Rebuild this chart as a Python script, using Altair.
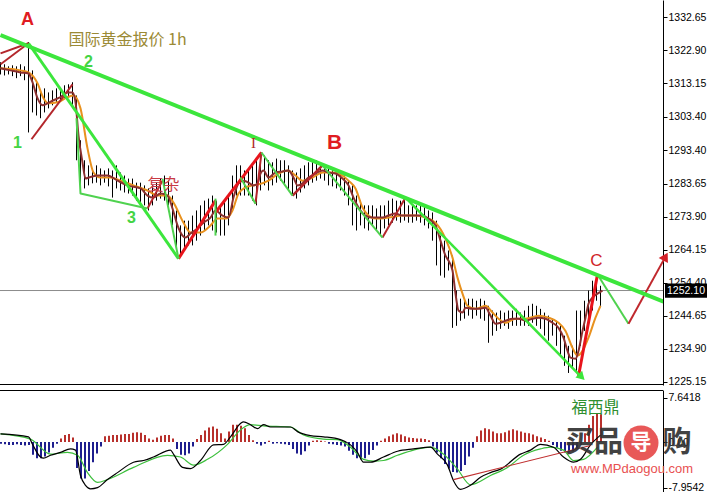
import altair as alt
import pandas as pd

# ---------------- price bars (one bar per step) ----------------
bar_high = [1319.4,1318.8,1318.2,1318.5,1318.2,1318.8,1318.2,1325.3,1317.0,1314.1,
            1311.1,1311.7,1310.5,1311.1,1311.7,1311.7,1312.6,1312.9,1313.5,1309.6,
            1296.4,1290.5,1289.0,1288.1,1289.0,1288.1,1287.5,1288.1,1287.5,1289.0,
            1286.9,1286.0,1285.1,1285.1,1283.9,1283.9,1283.1,1282.2,1283.1,1283.9,
            1285.1,1286.0,1284.5,1280.1,1275.7,1271.3,1272.7,1272.7,1274.2,1275.7,
            1277.2,1278.6,1279.2,1280.1,1278.6,1277.2,1278.6,1280.1,1286.0,1289.0,
            1289.0,1287.5,1287.5,1289.0,1290.5,1292.8,1291.9,1290.5,1289.9,1291.0,
            1290.5,1290.5,1289.0,1287.5,1286.9,1288.1,1289.0,1289.9,1290.5,1290.5,
            1289.9,1289.0,1289.0,1288.1,1287.5,1286.9,1286.0,1284.5,1283.1,1280.1,
            1278.6,1277.2,1277.2,1277.2,1276.3,1277.2,1277.2,1278.6,1279.2,1278.6,
            1278.6,1279.2,1277.2,1277.2,1277.2,1277.2,1277.2,1275.7,1275.1,1272.7,
            1268.3,1266.8,1263.9,1262.4,1252.1,1249.7,1249.1,1249.7,1249.7,1249.1,
            1249.7,1249.1,1247.6,1246.2,1245.6,1246.2,1245.6,1246.2,1246.2,1246.7,
            1245.6,1246.2,1247.6,1248.2,1247.6,1246.7,1245.6,1244.7,1243.8,1243.2,
            1241.7,1238.8,1235.8,1235.8,1246.2,1246.2,1249.1,1252.1,1255.0,1257.1,1253.5]
bar_low = [1315.8,1315.5,1315.8,1315.3,1314.7,1315.3,1314.1,1298.7,1304.6,1303.7,
           1302.9,1304.6,1305.8,1306.7,1307.6,1308.2,1308.8,1309.4,1306.7,1290.5,
           1281.6,1282.2,1283.1,1283.7,1283.9,1283.1,1283.9,1282.8,1279.5,1282.2,
           1281.6,1281.0,1280.7,1280.1,1278.6,1277.2,1277.2,1275.7,1277.2,1278.6,
           1279.2,1278.6,1277.2,1271.3,1263.9,1262.4,1263.9,1265.4,1265.4,1266.8,
           1268.3,1269.8,1271.3,1269.8,1269.2,1268.3,1268.3,1271.3,1275.7,1280.1,
           1280.1,1280.1,1280.1,1278.6,1277.2,1281.6,1283.1,1281.6,1283.1,1283.9,
           1284.5,1283.1,1281.6,1280.1,1279.2,1281.0,1282.2,1283.1,1283.9,1284.5,
           1285.1,1284.5,1283.1,1282.8,1282.2,1281.6,1280.1,1277.2,1271.3,1269.8,
           1271.3,1270.4,1269.8,1271.3,1269.8,1268.3,1270.4,1271.3,1272.1,1272.7,
           1272.1,1272.7,1272.1,1272.1,1272.7,1272.1,1271.3,1270.4,1266.8,1259.5,
           1256.5,1255.9,1258.0,1241.1,1241.7,1243.2,1243.8,1244.7,1243.8,1244.7,
           1243.8,1243.2,1236.7,1238.8,1240.2,1240.8,1241.7,1240.8,1241.7,1241.7,
           1241.7,1241.7,1241.7,1242.6,1241.7,1240.8,1238.8,1237.3,1238.8,1235.8,
           1232.9,1229.9,1227.8,1229.0,1228.4,1235.8,1240.2,1243.2,1246.2,1249.1,1247.6]

# ---------------- moving averages ----------------
fast_bar = [0,2.5,5,7,8,9.25,10.5,11.75,13.25,15,
            16.75,18,18.75,19.5,20.5,21.25,22,24.25,26.75,29.25,
            31.75,35,36.75,38.25,40,41.75,43,44.25,45.5,46.25,
            47.5,49.25,50.75,52.5,53.75,55.5,57,58.25,59.5,60.75,
            62,63.25,64.25,65,65.75,67,68.75,70.5,72,73.25,
            74.25,75.5,77,78.75,80.5,82,83.75,85.5,87,88.25,
            89.5,91.25,93,95.5,97,98.75,100.5,103.75,105.5,107,
            108.75,110,111.25,112,113,113.75,114.5,115.5,116.25,118,
            119.5,121.25,122.5,123.75,125,126.25,128,129.5,131.25,133,
            134.5,136.25,138,139.5,140.75,141.75,142.5,143.75,144.5,145.5,
            146.25,147,148,149.25,150.5]
fast_ma = [1317.6,1317.0,1316.4,1316.1,1313.5,1308.8,1306.7,1307.3,1308.2,1309.1,
           1310.5,1310.5,1307.6,1297.8,1289.9,1285.1,1285.4,1286.0,1286.0,1284.5,
           1283.1,1282.2,1280.1,1279.5,1280.7,1280.1,1276.3,1271.3,1268.3,1267.7,
           1268.9,1270.4,1272.1,1273.6,1275.7,1274.2,1273.6,1279.5,1283.7,1284.5,
           1283.9,1283.1,1283.7,1286.6,1287.5,1285.4,1286.9,1287.2,1287.5,1285.4,
           1283.1,1283.7,1285.4,1286.6,1287.5,1286.9,1286.6,1285.1,1283.1,1279.5,
           1276.6,1274.2,1273.6,1273.6,1274.2,1274.8,1274.2,1274.2,1274.2,1273.3,
           1271.3,1266.8,1262.4,1260.9,1258.0,1251.2,1246.2,1245.6,1247.0,1246.7,
           1246.7,1247.0,1244.7,1242.3,1242.6,1243.2,1243.8,1243.8,1243.2,1243.8,
           1244.1,1243.8,1242.6,1241.1,1238.2,1234.3,1232.3,1232.0,1234.3,1240.2,
           1244.1,1248.2,1250.0,1251.2,1252.1]
slow_bar = [0,5,7,9.25,10.75,12,14.25,16.75,18.25,20,
            21.75,23.25,25,27.5,30,33.25,36.75,39.25,41.75,43.25,
            45.75,47.5,50,52.5,54.25,56.25,58,59.5,61.25,63,
            64.5,67,69.5,71.75,73.75,75.5,78,80.5,83,85.5,
            87,88.75,90.5,92,93.75,97,100.5,103.75,106.25,108.75,
            111.25,113,114.25,115.5,116.75,118.75,121.25,123,124.5,126.25,
            128.75,131.25,134.5,137,139.5,141.25,143,144.25,145.5,147,
            148.75,150]
slow_ma = [1317.6,1317.0,1316.4,1313.2,1308.8,1307.3,1307.6,1309.1,1309.6,1305.8,
           1294.0,1286.9,1285.4,1285.4,1284.5,1283.1,1281.6,1280.1,1280.1,1278.0,
           1272.1,1269.2,1269.2,1271.3,1273.3,1273.3,1275.7,1280.7,1282.5,1283.1,
           1283.4,1284.5,1286.6,1287.5,1286.0,1284.5,1285.4,1286.9,1286.9,1286.0,
           1284.5,1282.2,1276.6,1274.2,1273.3,1273.6,1274.2,1274.2,1273.6,1272.1,
           1267.4,1261.8,1255.9,1251.2,1247.6,1246.7,1247.6,1245.6,1243.8,1242.6,
           1243.8,1243.8,1244.7,1244.1,1242.6,1240.2,1235.2,1232.9,1234.3,1238.2,
           1244.1,1247.6]

# ---------------- MACD ----------------
macd_hist = [-0.3,-0.4,-0.5,-0.5,-0.4,-0.5,-0.6,-0.5,-2.2,-2.8,
             -2.8,-2.5,-1.8,-1.0,-0.3,0.6,1.2,1.4,0.8,-4.5,
             -6.3,-6.3,-5.0,-3.5,-2.0,-0.8,1.0,1.1,1.2,1.2,
             1.3,1.4,1.4,1.6,1.7,1.6,1.2,0.6,0.4,0.8,
             1.1,1.2,1.2,0.6,-1.2,-2.2,-2.3,-2.0,-0.8,0.5,
             1.2,2.0,2.5,2.7,2.3,1.5,0.6,1.8,3.0,3.0,
             2.8,2.4,1.2,0.3,-0.3,-0.6,-0.3,0.2,-0.3,-0.2,
             -0.3,-0.4,-0.5,-1.2,-2.0,-2.2,-1.6,-0.6,0.2,0.3,
             0.2,0.1,-0.3,-0.4,-0.5,-0.6,-0.8,-1.5,-2.2,-2.8,
             -3.0,-2.8,-2.2,-1.4,-0.6,0.2,0.6,1.0,1.3,1.5,
             1.3,1.0,0.8,0.7,0.6,0.6,0.5,0.3,-0.8,-1.8,
             -2.8,-3.8,-4.6,-5.2,-5.3,-5.0,-4.0,-2.5,-1.0,1.0,
             2.0,2.4,2.2,1.8,1.5,1.5,1.7,2.0,2.2,2.0,
             1.8,1.6,1.5,1.3,1.0,0.8,0.5,0.2,-0.5,-1.0,
             -1.5,-1.8,-1.8,-1.6,-1.2,-0.5,1.5,3.0,4.5,5.0,4.8]
macd_bar = [0,7,8,10,10.75,12.5,15,17.5,18.75,20,
            21.25,22.5,24.25,26.75,29.25,33.25,35.75,38.25,42.5,43.25,
            45.5,47.5,50,53.25,55.75,57.5,60,60.75,62.5,64.25,
            65.75,67.5,72.5,74.25,77.5,80.75,85,87.5,89.25,90.75,
            92.5,95.75,99.25,103.25,107.5,109.25,111.75,113.25,115,117.5,
            120,122.5,125,130,132.5,135,138.25,140.75,143.25,145,
            147.5,150]
macd_line = [1.4,0.9,-0.4,-2.6,-2.8,-2.3,-1.8,-1.2,-1.4,-5.8,
             -7.5,-8.1,-7.9,-6.5,-5.3,-3.5,-3.2,-2.6,-1.4,-2.1,
             -4.4,-4.6,-3.2,-0.5,-0.4,0.9,3.2,3.5,3.0,2.3,
             3.0,2.6,2.6,1.8,1.1,0.9,0.4,-0.5,-1.8,-3.5,
             -3.5,-2.6,-1.6,-1.2,-0.9,-2.1,-4.0,-6.7,-8.2,-7.5,
             -6.1,-5.3,-4.7,-2.1,-1.4,-0.4,-0.9,-2.6,-3.5,-3.0,
             -0.5,1.2]
signal_bar = [0,7.5,12.5,16.75,19.25,21.75,24.25,26.75,33.25,41.75,
              45,48.25,51.75,56.75,60,62.5,65.75,72.5,75.75,80.75,
              84.25,87.5,90.75,93.25,95.75,99.25,103.25,107.5,110.75,114.25,
              117.5,122.5,126.75,130.75,135,137.5,140.75,143.25,145.75,149.25]
signal_line = [1.4,0.5,-2.1,-1.8,-2.3,-5.3,-7.0,-6.5,-4.4,-2.3,
               -2.6,-4.0,-3.0,-0.4,2.1,3.0,2.8,2.6,1.2,0.5,
               0.4,-0.9,-3.0,-3.3,-3.2,-2.3,-1.4,-0.9,-2.1,-4.7,
               -7.4,-5.8,-4.4,-2.3,-1.2,-0.9,-1.4,-3.2,-3.0,-0.9]
div_bar = [113.25, 147.5]
div_val = [-6.5, -0.6]

# ---------------- axis ticks ----------------
price_ticks = [1332.65,1322.90,1313.15,1303.40,1293.40,1283.65,1273.90,
               1264.15,1254.40,1244.65,1234.90,1225.15]
macd_ticks = [7.6418, 0, -7.9542]
last_price = [1252.10]

# ---------------- drawn wave / trend lines ----------------
trend_bar = [0, 165.75]
trend_price = [1327.4, 1248.8]

wave_seg = ["R1","R1","R2","R2","R3","R3","R4","R4","R5","R5","R6","R6","R6b","R6b",
            "R7","R7","R8","R8","R9","R9",
            "G1","G1","G2","G2","G2","G3","G3","G4","G4","G5","G5","G6","G6",
            "G7","G7","G8","G8","G9","G9"]
wave_bar = [0,7, 0,7, 7.75,18, 36.75,40.5, 44.5,53.75, 53.75,65.25, 63.75,65.25,
            73,80.5, 95.5,101.25, 144.5,149.25,
            7,44.5, 19,20,36.75, 40.5,44.5, 53.75,53.75, 60,63.75, 65.25,73,
            80.5,95.5, 101.25,145, 149.25,157]
wave_price = [1322.0,1325.0, 1318.8,1325.0, 1296.7,1312.9, 1276.3,1284.5, 1261.5,1278.6,
              1275.1,1292.8, 1277.7,1292.8, 1280.1,1289.0, 1267.7,1279.5, 1226.9,1256.8,
              1325.0,1261.5, 1302.9,1280.7,1276.3, 1285.1,1261.5, 1279.2,1268.3,
              1285.4,1277.7, 1292.8,1280.1, 1289.0,1267.7, 1279.5,1226.9, 1256.8,1242.3]
forecast_bar = [157, 166.25]
forecast_price = [1242.3, 1262.1]

# annotation labels
big_labels = ["A", "B"]
big_bar = [6.75, 83.5]
big_price = [1331.8, 1295.5]
c_label = ["C"]
c_bar = [149]
c_price = [1260.9]
num_labels = ["1", "2", "3"]
num_bar = [4.25, 22, 32.75]
num_price = [1295.5, 1319.4, 1273.6]

# ---------------- styles ----------------
DARK_RED = "#b3262b"
RED = "#e8141c"
GREEN = "#3ce63c"
GREEN2 = "#4fd24f"
seg_style = {
    "R1": (DARK_RED, 2), "R2": (DARK_RED, 2), "R3": (DARK_RED, 2), "R4": (DARK_RED, 2),
    "R5": (RED, 3), "R6": (RED, 3), "R6b": (DARK_RED, 2), "R7": (DARK_RED, 2.5),
    "R8": (DARK_RED, 2), "R9": (RED, 3),
    "G1": (GREEN, 3), "G2": (GREEN2, 2), "G3": (GREEN2, 2), "G4": (GREEN2, 2),
    "G5": (GREEN2, 2), "G6": (GREEN2, 2), "G7": (GREEN2, 2), "G8": (GREEN, 2.5),
    "G9": (GREEN2, 2),
}

XS = alt.Scale(domain=[-0.125, 165.625], nice=False, zero=False)
PS = alt.Scale(domain=[1224.25, 1337.75], nice=False, zero=False)
MS = alt.Scale(domain=[-9.0, 9.0], nice=False, zero=False)

price_axis = alt.Axis(orient="right", values=price_ticks, format=".2f", title=None,
                      grid=False, domainColor="black", domainWidth=1, tickColor="black",
                      tickSize=4, labelPadding=1, labelFont="Liberation Sans",
                      labelFontSize=10.5, labelColor="black", labelFlush=False,
                      labelOverlap=False)
macd_axis = alt.Axis(orient="right", values=macd_ticks, title=None, grid=False,
                     labelExpr="datum.value == 0 ? '0.00' : toString(datum.value)",
                     domainColor="black", tickColor="black", tickSize=4, labelPadding=1,
                     labelFont="Liberation Sans", labelFontSize=10.5, labelColor="black",
                     labelFlush=False, labelOverlap=False)


def X(f="b"):
    return alt.X(f"{f}:Q", scale=XS, axis=None)


def P(f="p"):
    return alt.Y(f"{f}:Q", scale=PS, axis=price_axis)


def M(f="v"):
    return alt.Y(f"{f}:Q", scale=MS, axis=macd_axis)


bars_df = pd.DataFrame({"b": list(range(len(bar_high))), "p": bar_high, "lo": bar_low})
fast_df = pd.DataFrame({"b": fast_bar, "p": fast_ma})
slow_df = pd.DataFrame({"b": slow_bar, "p": slow_ma})
trend_df = pd.DataFrame({"b": trend_bar, "p": trend_price})
wave_df = pd.DataFrame({"seg": wave_seg, "b": wave_bar, "p": wave_price})
wave_df["k"] = range(len(wave_df))
wave_df["color"] = [seg_style[s][0] for s in wave_seg]
wave_df["w"] = [seg_style[s][1] for s in wave_seg]
fc_df = pd.DataFrame({"b": forecast_bar, "p": forecast_price})
last_df = pd.DataFrame({"p": last_price})

last_line = alt.Chart(last_df).mark_rule(color="#8c8c8c", strokeWidth=1, clip=True).encode(
    y=P(), x=alt.value(0), x2=alt.value(663))

bars = alt.Chart(bars_df).mark_rule(color="black", strokeWidth=1, clip=True).encode(
    x=X(), y=P(), y2=alt.Y2("lo:Q"))

slow = alt.Chart(slow_df).mark_line(color="#e8911e", strokeWidth=2, interpolate="monotone",
                                    clip=True).encode(x=X(), y=P())
fast = alt.Chart(fast_df).mark_line(color="#8b3030", strokeWidth=2, interpolate="monotone",
                                    clip=True).encode(x=X(), y=P())

waves = alt.Chart(wave_df).mark_line(clip=True, strokeJoin="round").encode(
    x=X(), y=P(), detail="seg:N", order="k:Q",
    color=alt.Color("color:N", scale=None),
    strokeWidth=alt.StrokeWidth("w:Q", scale=None))
forecast = alt.Chart(fc_df).mark_line(color="#c0282d", strokeWidth=2).encode(x=X(), y=P())

trend = alt.Chart(trend_df).mark_line(color=GREEN, strokeWidth=4, clip=True).encode(x=X(), y=P())

arrow_red = alt.Chart(pd.DataFrame({"b": [166.25], "p": [1262.1]})).mark_point(
    shape="triangle-up", filled=True, color="#d42028", size=110, angle=29, opacity=1
).encode(x=X(), y=P())
arrow_green = alt.Chart(pd.DataFrame({"b": [145.3], "p": [1226.6]})).mark_point(
    shape="triangle-up", filled=True, color=GREEN, size=90, angle=135, opacity=1, clip=True
).encode(x=X(), y=P())

big_txt = alt.Chart(pd.DataFrame({"t": big_labels, "b": big_bar, "p": big_price,
                                  "s": [18, 21]})).mark_text(
    color="#e01c22", font="Liberation Sans", fontWeight="bold", clip=True).encode(
    x=X(), y=P(), text="t:N", size=alt.Size("s:Q", scale=None))
c_txt = alt.Chart(pd.DataFrame({"t": c_label, "b": c_bar, "p": c_price})).mark_text(
    color="#d02428", font="Liberation Sans", fontSize=17, clip=True).encode(
    x=X(), y=P(), text="t:N")
num_txt = alt.Chart(pd.DataFrame({"t": num_labels, "b": num_bar, "p": num_price})).mark_text(
    color="#44d444", font="Liberation Sans", fontSize=16, fontWeight="bold", clip=True).encode(
    x=X(), y=P(), text="t:N")
title_txt = alt.Chart(pd.DataFrame({"t": ["国际黄金报价 1h"], "b": [17], "p": [1325.9]})).mark_text(
    color="#9b8a35", font="Noto Sans CJK SC", fontSize=16, align="left", clip=True).encode(
    x=X(), y=P(), text="t:N")
fz_txt = alt.Chart(pd.DataFrame({"t": ["复杂"], "b": [40.75], "p": [1283.1]})).mark_text(
    color="#c83a44", font="Noto Sans CJK SC", fontSize=16, clip=True).encode(
    x=X(), y=P(), text="t:N")
i_txt = alt.Chart(pd.DataFrame({"t": ["I"], "b": [63.25], "p": [1295.5]})).mark_text(
    color="#b02a2a", font="Liberation Serif", fontSize=15, clip=True).encode(
    x=X(), y=P(), text="t:N")

box_path = "M-1,-0.34L1,-0.34L1,0.34L-1,0.34Z"
last_box = alt.Chart(last_df).mark_point(shape=box_path, filled=True, color="black",
                                         size=1764, opacity=1).encode(
    x=alt.value(686), y=P())
last_txt = alt.Chart(last_df).mark_text(color="white", font="Liberation Sans", fontSize=10.5).encode(
    x=alt.value(686), y=P(), text=alt.Text("p:Q", format=".2f"))

bottom_line1 = alt.Chart(last_df).mark_rule(color="black", strokeWidth=1, clip=True).encode(
    x=alt.value(0), x2=alt.value(663), y=alt.value(384.5))

top = alt.layer(last_line, bars, slow, fast, waves, forecast, trend, arrow_red, arrow_green,
                big_txt, c_txt, num_txt, title_txt, fz_txt, i_txt, bottom_line1,
                last_box, last_txt).properties(width=663, height=385)

# ---------------- MACD panel ----------------
hist_df = pd.DataFrame({"b": list(range(len(macd_hist))), "v": macd_hist})
macd_df = pd.DataFrame({"b": macd_bar, "v": macd_line})
sig_df = pd.DataFrame({"b": signal_bar, "v": signal_line})
div_df = pd.DataFrame({"b": div_bar, "v": div_val})

hist = alt.Chart(hist_df).mark_rule(strokeWidth=2, xOffset=0.5, clip=True).encode(
    x=X(), y=M(), y2=alt.datum(0),
    color=alt.condition("datum.v > 0", alt.value("#b8302c"), alt.value("#1e1e8e")))
macd_l = alt.Chart(macd_df).mark_line(color="black", strokeWidth=1.2, interpolate="monotone",
                                      clip=True).encode(x=X(), y=M())
sig_l = alt.Chart(sig_df).mark_line(color="#3cbf3c", strokeWidth=1.2, interpolate="monotone",
                                    clip=True).encode(x=X(), y=M())
div_l = alt.Chart(div_df).mark_line(color="#c03030", strokeWidth=1.2, clip=True).encode(
    x=X(), y=M())
fxd_txt = alt.Chart(pd.DataFrame({"t": ["福西鼎"], "b": [148.75], "v": [5.9]})).mark_text(
    color="#2f8f2f", font="Noto Sans CJK SC", fontSize=16, clip=True).encode(
    x=X(), y=M(), text="t:N")

top_line2 = alt.Chart(last_df).mark_rule(color="black", strokeWidth=1, clip=True).encode(
    x=alt.value(0), x2=alt.value(663), y=alt.value(0.5))

one = pd.DataFrame({"z": [0]})
wm1 = alt.Chart(one).mark_text(text="买品", font="Noto Sans CJK SC", fontSize=29,
                               fontWeight="bold", color="#333333", opacity=0.92).encode(
    x=alt.value(594), y=alt.value(53))
wm_circle = alt.Chart(one).mark_point(shape="circle", filled=True, color="#e64a4a", size=1225,
                                      opacity=0.92).encode(
    x=alt.value(641), y=alt.value(53))
wm2 = alt.Chart(one).mark_text(text="导", font="Noto Sans CJK SC", fontSize=21,
                               fontWeight="bold", color="white").encode(
    x=alt.value(641), y=alt.value(53))
wm3 = alt.Chart(one).mark_text(text="购", font="Noto Sans CJK SC", fontSize=29,
                               fontWeight="bold", color="#333333", opacity=0.92).encode(
    x=alt.value(677), y=alt.value(53))
wm_url = alt.Chart(one).mark_text(text="www.MPdaogou.com", font="Liberation Sans", fontSize=13,
                                  color="#e85050").encode(
    x=alt.value(632), y=alt.value(79))

bottom = alt.layer(hist, sig_l, macd_l, div_l, top_line2, fxd_txt,
                   wm1, wm_circle, wm2, wm3, wm_url).properties(width=663, height=104)

chart = alt.vconcat(top, bottom, spacing=2).properties(
    padding=0, background="white").configure_view(stroke=None)

chart.save("out.html", embed_options={"renderer": "svg", "actions": False})
